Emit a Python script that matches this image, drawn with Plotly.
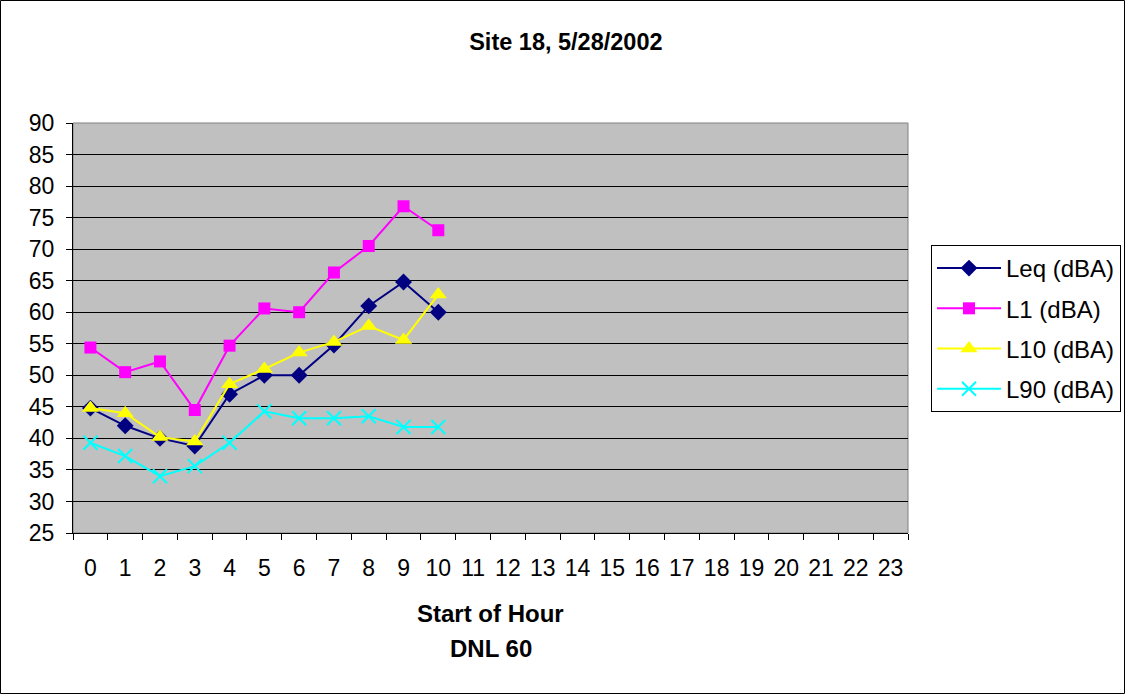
import plotly.graph_objects as go

hours = list(range(24))
hour_labels = [str(h) for h in hours]
measured_hours = list(range(11))

leq = [44.8, 42.0, 40.0, 38.8, 47.0, 50.0, 50.0, 54.8, 61.0, 64.8, 60.0]
l1 = [54.4, 50.5, 52.2, 44.5, 54.7, 60.6, 60.0, 66.3, 70.5, 76.8, 73.0]
l10 = [44.8, 44.0, 40.2, 39.5, 48.6, 51.0, 53.6, 55.3, 57.8, 55.6, 62.8]
l90 = [39.3, 37.2, 34.0, 35.6, 39.3, 44.3, 43.2, 43.2, 43.5, 41.8, 41.8]

title_text = "Site 18, 5/28/2002"
x_title_lines = ["Start of Hour", "DNL 60"]

FONT = "Liberation Sans, Arial, sans-serif"

series = [
    ("Leq (dBA)", leq, "#000080", "diamond", 13, None),
    ("L1 (dBA)", l1, "#FF00FF", "square", 12, None),
    ("L10 (dBA)", l10, "#FFFF00", "triangle-up", 15, None),
    ("L90 (dBA)", l90, "#00FFFF", "x-thin", 14, 2),
]

fig = go.Figure()
for i, (name, vals, color, sym, size, lw) in enumerate(series):
    marker = dict(symbol=sym, size=size, color=color)
    marker["line"] = dict(color=color, width=lw if lw else 0)
    fig.add_trace(go.Scatter(
        x=measured_hours, y=vals, name=name, mode="lines+markers",
        line=dict(color=color, width=2), marker=marker,
        legendgroup=f"g{i}",
    ))

L, R, T, B = 73, 217, 123, 161
W, H = 1125, 694
pw, ph = W - L - R, H - T - B

fig.update_layout(
    width=W, height=H,
    margin=dict(l=L, r=R, t=T, b=B, autoexpand=False),
    paper_bgcolor="white",
    plot_bgcolor="#C0C0C0",
    font=dict(family=FONT, size=23, color="black"),
    title=dict(text=f"<b>{title_text}</b>", x=0.503, xref="container", xanchor="center",
               y=1 - 42 / H, yref="container", yanchor="middle",
               font=dict(family=FONT, size=23.5, color="black")),
    showlegend=True,
    legend=dict(x=931 / W, y=1 - 245 / H, xref="container", yref="container",
                xanchor="left", yanchor="top",
                bordercolor="black", borderwidth=1, bgcolor="white",
                font=dict(family=FONT, size=24), traceorder="grouped",
                tracegroupgap=6, itemwidth=64),
    xaxis=dict(range=[-0.5, 23.5], tickmode="array", tickvals=hours, ticktext=hour_labels,
               ticks="outside", ticklen=14, tickcolor="rgba(0,0,0,0)",
               showgrid=False, zeroline=False, showline=True, linecolor="black", linewidth=1,
               minor=dict(tickmode="linear", tick0=-0.5, dtick=1, ticks="outside",
                          ticklen=6, tickcolor="black", tickwidth=1, showgrid=False),
               tickfont=dict(family=FONT, size=23)),
    yaxis=dict(range=[25, 90], dtick=5, tick0=25, ticks="outside", ticklen=6,
               tickcolor="black", showgrid=True, gridcolor="black", gridwidth=1,
               zeroline=False, showline=True, linecolor="black", linewidth=1,
               ticklabelstandoff=7, tickfont=dict(family=FONT, size=23)),
)

# plot area border (gray top/right)
fig.add_shape(type="rect", xref="paper", yref="paper", x0=0, x1=1, y0=0, y1=1,
              line=dict(color="#808080", width=1), layer="below")
# chart outer frame
fig.add_shape(type="rect", xref="paper", yref="paper",
              x0=(0.5 - L) / pw, x1=(W - 0.5 - L) / pw,
              y0=(533 - (H - 0.5)) / ph, y1=(533 - 0.5) / ph,
              line=dict(color="black", width=1))

for txt, ypix in zip(x_title_lines, [613, 648]):
    fig.add_annotation(text=f"<b>{txt}</b>", xref="paper", yref="paper", x=0.5, y=0,
                       xanchor="center", yanchor="middle", yshift=-(ypix - 533),
                       showarrow=False, font=dict(family=FONT, size=24, color="black"))

fig.write_html("out.html", config={"displayModeBar": False},
               post_script="document.body.style.margin='0px';document.body.style.overflow='hidden';")
